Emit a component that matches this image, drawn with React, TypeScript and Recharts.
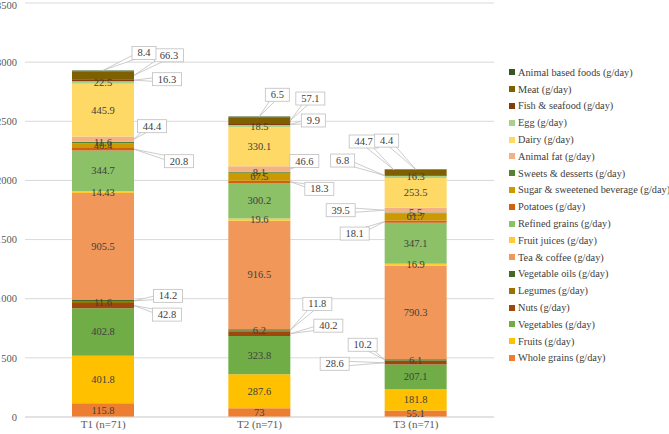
import React from "react";
import { BarChart, Bar, XAxis, YAxis, CartesianGrid, LabelList } from "recharts";

const categories = ["T1 (n=71)", "T2 (n=71)", "T3 (n=71)"];
const yTicks = [0, 500, 1000, 1500, 2000, 2500, 3000, 3500];

// stacked bottom -> top
const wholeGrains = [115.8, 73, 55.1];
const fruits = [401.8, 287.6, 181.8];
const vegetables = [402.8, 323.8, 207.1];
const nuts = [42.8, 40.2, 28.6];
const legumes = [11.6, 6.2, 6.1];
const vegetableOils = [14.2, 11.8, 10.2];
const teaCoffee = [905.5, 916.5, 790.3];
const fruitJuices = [14.43, 19.6, 16.9];
const refinedGrains = [344.7, 300.2, 347.1];
const potatoes = [20.8, 18.3, 18.1];
const sugarBeverage = [40.4, 67.5, 61.7];
const sweets = [11.6, 8.1, 5.5];
const animalFat = [44.4, 46.6, 39.5];
const dairy = [445.9, 330.1, 253.5];
const egg = [22.5, 18.5, 16.3];
const fish = [16.3, 9.9, 6.8];
const meat = [66.3, 57.1, 44.7];
const animalBased = [8.4, 6.5, 4.4];

const seriesKeys = [
  "wholeGrains", "fruits", "vegetables", "nuts", "legumes", "vegetableOils",
  "teaCoffee", "fruitJuices", "refinedGrains", "potatoes", "sugarBeverage", "sweets",
  "animalFat", "dairy", "egg", "fish", "meat", "animalBased",
];
const seriesNames = [
  "Whole grains (g/day)", "Fruits (g/day)", "Vegetables (g/day)", "Nuts (g/day)",
  "Legumes (g/day)", "Vegetable oils (g/day)", "Tea & coffee (g/day)", "Fruit juices (g/day)",
  "Refined grains (g/day)", "Potatoes (g/day)", "Sugar & sweetened beverage (g/day)",
  "Sweets & desserts (g/day)", "Animal fat (g/day)", "Dairy (g/day)", "Egg (g/day)",
  "Fish & seafood (g/day)", "Meat (g/day)", "Animal based foods (g/day)",
];
const seriesValues = [
  wholeGrains, fruits, vegetables, nuts, legumes, vegetableOils, teaCoffee, fruitJuices,
  refinedGrains, potatoes, sugarBeverage, sweets, animalFat, dairy, egg, fish, meat, animalBased,
];
const colors = [
  "#ED7D31", "#FFC000", "#70AD47", "#9E480E", "#997300", "#43682B",
  "#F1975A", "#FFCD33", "#8CC168", "#D26012", "#CC9A00", "#548235",
  "#F4B183", "#FFD966", "#A9D18E", "#843C0C", "#7F6000", "#375623",
];

const data = categories.map((name, i) => {
  const row: Record<string, any> = { name };
  seriesKeys.forEach((k, s) => (row[k] = seriesValues[s][i]));
  return row;
});

// callout boxes: offset of box from segment centre, anchor point as fraction of segment
const callouts: Record<string, { dx: number; dy: number; ax: number; ay: number }> = {
  "nuts-0": { dx: 64, dy: 9, ax: 1, ay: 0.5 },
  "vegetableOils-0": { dx: 65, dy: -5, ax: 1, ay: 0.5 },
  "potatoes-0": { dx: 76, dy: 12, ax: 1, ay: 0.5 },
  "animalFat-0": { dx: 49, dy: -13, ax: 1, ay: 0.5 },
  "fish-0": { dx: 64, dy: -1, ax: 1, ay: 0.5 },
  "meat-0": { dx: 66, dy: -20, ax: 1, ay: 0.5 },
  "animalBased-0": { dx: 41, dy: -18, ax: 0.5, ay: 0 },
  "nuts-1": { dx: 69, dy: -8, ax: 1, ay: 0.5 },
  "vegetableOils-1": { dx: 58, dy: -26, ax: 1, ay: 0.5 },
  "potatoes-1": { dx: 60, dy: 7, ax: 1, ay: 0.5 },
  "animalFat-1": { dx: 45, dy: -8, ax: 1, ay: 0.5 },
  "fish-1": { dx: 54, dy: -4, ax: 1, ay: 0.5 },
  "meat-1": { dx: 51, dy: -22, ax: 1, ay: 0.5 },
  "animalBased-1": { dx: 18, dy: -22, ax: 0.5, ay: 0 },
  "nuts-2": { dx: -81, dy: 1, ax: 0, ay: 0.5 },
  "vegetableOils-2": { dx: -53, dy: -15, ax: 0, ay: 0.5 },
  "potatoes-2": { dx: -61, dy: 12, ax: 0, ay: 0.5 },
  "animalFat-2": { dx: -75, dy: 0, ax: 0, ay: 0.5 },
  "fish-2": { dx: -73, dy: -15, ax: 0, ay: 0.5 },
  "meat-2": { dx: -52, dy: -31, ax: 0.15, ay: 0 },
  "animalBased-2": { dx: -29, dy: -29, ax: 0.5, ay: 0 },
};

const FONT = "Liberation Serif, Times New Roman, serif";

const makeLabel = (key: string) => (props: any) => {
  const { x, y, width, height, value } = props;
  if (value == null) return null;
  const idx = props.index ?? Math.round((x + width / 2 - 104) / 156);
  const cx = x + width / 2;
  const cy = y + height / 2;
  const text = String(value);
  const c = callouts[`${key}-${idx}`];
  if (!c) {
    return (
      <text x={cx} y={cy} textAnchor="middle" dominantBaseline="central" fontSize={10.5} fontFamily={FONT} fill="#404040">
        {text}
      </text>
    );
  }
  const bx = cx + c.dx;
  const by = cy + c.dy;
  const px0 = x + width * c.ax;
  const py0 = y + height * c.ay;
  const ang = Math.atan2(by - py0, bx - px0);
  const ox = Math.sin(ang) * 3;
  const oy = -Math.cos(ang) * 3;
  const w = text.length * 5 + 9;
  const h = 13;
  return (
    <g>
      <polygon
        points={`${px0},${py0} ${bx + ox},${by + oy} ${bx - ox},${by - oy}`}
        fill="#fff"
        stroke="#BFBFBF"
        strokeWidth={0.8}
      />
      <rect x={bx - w / 2} y={by - h / 2} width={w} height={h} fill="#fff" stroke="#BFBFBF" strokeWidth={0.8} />
      <text x={bx} y={by} textAnchor="middle" dominantBaseline="central" fontSize={10.5} fontFamily={FONT} fill="#404040">
        {text}
      </text>
    </g>
  );
};

const ChartLegend = () => (
  <div
    style={{
      position: "absolute",
      left: 509,
      top: 64,
      fontFamily: FONT,
      fontSize: 10.3,
      color: "#404040",
    }}
  >
    {seriesNames
      .map((n, i) => ({ n, c: colors[i] }))
      .reverse()
      .map((it) => (
        <div key={it.n} style={{ height: 16.8, display: "flex", alignItems: "center", whiteSpace: "nowrap" }}>
          <span style={{ display: "inline-block", width: 6, height: 6, background: it.c, marginRight: 3 }} />
          {it.n}
        </div>
      ))}
  </div>
);

export default function App() {
  return (
    <div style={{ position: "absolute", left: 0, top: 0, width: 669, height: 434, background: "#fff", overflow: "hidden" }}>
      <BarChart width={669} height={434} data={data} margin={{ top: 3, right: 175, bottom: 0, left: 0 }} barSize={62}>
        <CartesianGrid vertical={false} stroke="#D9D9D9" />
        <XAxis
          dataKey="name"
          height={17}
          axisLine={{ stroke: "#D9D9D9" }}
          tickLine={false}
          tickSize={2}
          tickMargin={1}
          tick={{ fontSize: 11, fontFamily: FONT, fill: "#595959" }}
        />
        <YAxis
          width={25}
          domain={[0, 3500]}
          ticks={yTicks}
          axisLine={false}
          tickLine={false}
          tick={{ fontSize: 10.5, fontFamily: FONT, fill: "#595959" }}
        />
        {seriesKeys.map((k, i) => (
          <Bar key={k} dataKey={k} name={seriesNames[i]} stackId="a" fill={colors[i]} isAnimationActive={false}>
            <LabelList dataKey={k} content={makeLabel(k)} />
          </Bar>
        ))}
      </BarChart>
      <ChartLegend />
    </div>
  );
}
